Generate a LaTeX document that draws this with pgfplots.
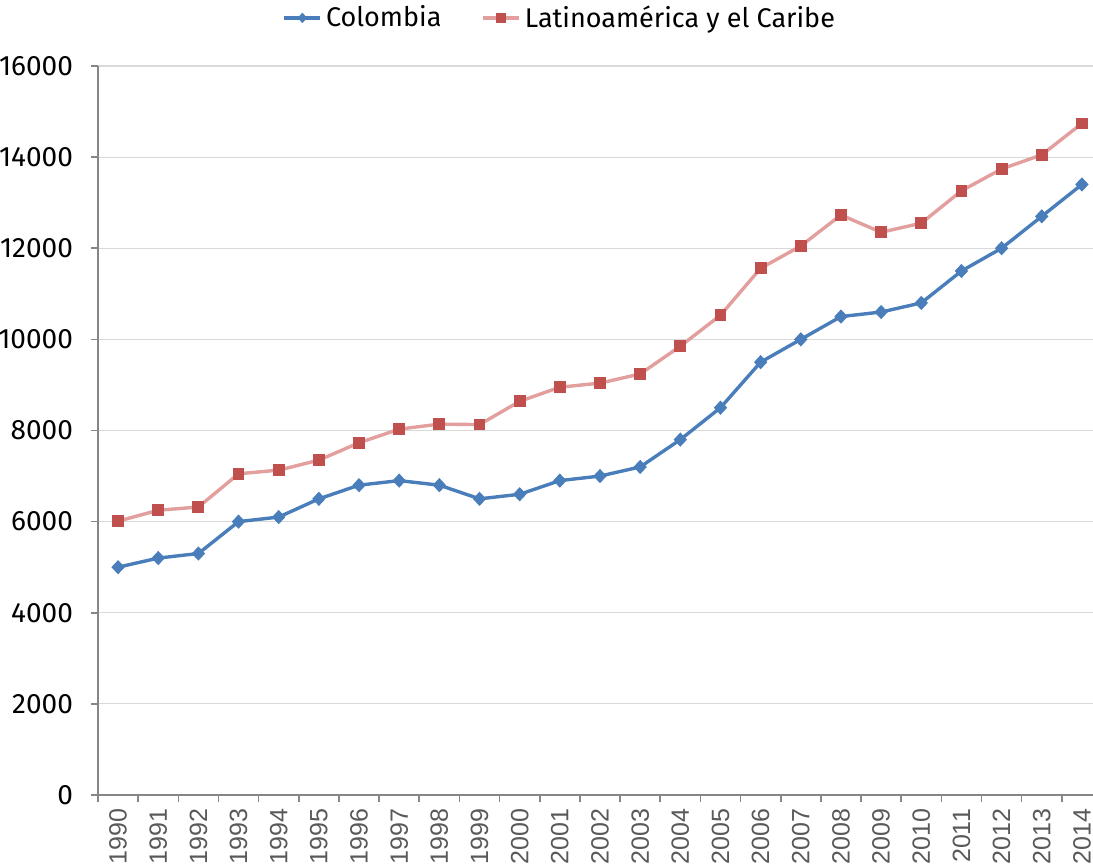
\documentclass[border=0pt]{standalone}
\usepackage{pgfplots}
\pgfplotsset{compat=1.18}
\usepackage{fontspec}
\setmainfont{Fira Sans}
\newfontfamily\xfont{Liberation Sans}
\definecolor{colblue}{HTML}{4A7EBB}
\definecolor{lacline}{HTML}{E39E9E}
\definecolor{lacmark}{HTML}{C0504D}
\definecolor{axgray}{HTML}{868686}
\definecolor{gridgray}{HTML}{D9D9D9}
\definecolor{labgray}{HTML}{595959}
\begin{document}
\begin{tikzpicture}
\path[clip, use as bounding box] (-49pt,-36pt) rectangle (497.5pt,397.5pt);
\begin{axis}[
  at={(0,0)}, anchor=south west,
  scale only axis, width=502pt, height=364.5pt,
  xmin=-0.5, xmax=24.5, ymin=0, ymax=16000,
  axis x line*=bottom, axis y line*=left,
  axis line style={axgray, line width=0.8pt},
  xtick={0,...,24},
  xticklabels={1990,1991,1992,1993,1994,1995,1996,1997,1998,1999,2000,2001,2002,2003,2004,2005,2006,2007,2008,2009,2010,2011,2012,2013,2014},
  x tick label style={rotate=90, anchor=east, font=\xfont\fontsize{12.5}{14}\selectfont, text=labgray},
  major x tick style={draw=none},
  minor xtick={-0.5,0.5,...,24.5},
  minor tick length=3.5pt,
  minor x tick style={axgray, line width=0.8pt},
  ytick={0,2000,...,16000},
  y tick label style={font=\fontsize{14}{16}\selectfont},
  yticklabel shift=5.5pt,
  major y tick style={axgray, line width=0.8pt},
  major tick length=3.5pt,
  tick align=outside,
  ymajorgrids, grid style={gridgray, line width=0.6pt},
  scaled y ticks=false,
  yticklabel={\pgfmathprintnumber[1000 sep={},assume math mode=true]{\tick}},
  legend columns=-1,
  legend style={draw=none, fill=none, at={(0.461,1.066)}, anchor=center,
    font=\fontsize{13.5}{15}\selectfont, /tikz/every even column/.append style={column sep=18pt}},
  legend image code/.code={\draw[#1] (0pt,0pt) -- (18pt,0pt); \draw[#1, only marks, mark size=2.2pt] plot coordinates {(9pt,0pt)};},
  clip=false,
]
\addplot[colblue, line width=1.7pt, mark=diamond*, mark size=3.2pt, mark options={fill=colblue, draw=colblue, line width=0.5pt, xscale=1.25}] coordinates {
(0,5000)(1,5200)(2,5300)(3,6000)(4,6100)(5,6500)(6,6800)(7,6900)(8,6800)(9,6500)(10,6600)(11,6900)(12,7000)(13,7200)(14,7800)(15,8500)(16,9500)(17,10000)(18,10500)(19,10600)(20,10800)(21,11500)(22,12000)(23,12700)(24,13400)};
\addlegendentry{Colombia}
\addplot[lacline, line width=1.7pt, mark=square*, mark size=2.7pt, mark options={fill=lacmark, draw=lacmark, line width=0.5pt}] coordinates {
(0,6010)(1,6250)(2,6320)(3,7050)(4,7130)(5,7350)(6,7730)(7,8030)(8,8140)(9,8130)(10,8640)(11,8950)(12,9040)(13,9240)(14,9850)(15,10530)(16,11560)(17,12050)(18,12730)(19,12350)(20,12550)(21,13260)(22,13740)(23,14050)(24,14740)};
\addlegendentry{Latinoamérica y el Caribe}
\end{axis}
\end{tikzpicture}
\end{document}
